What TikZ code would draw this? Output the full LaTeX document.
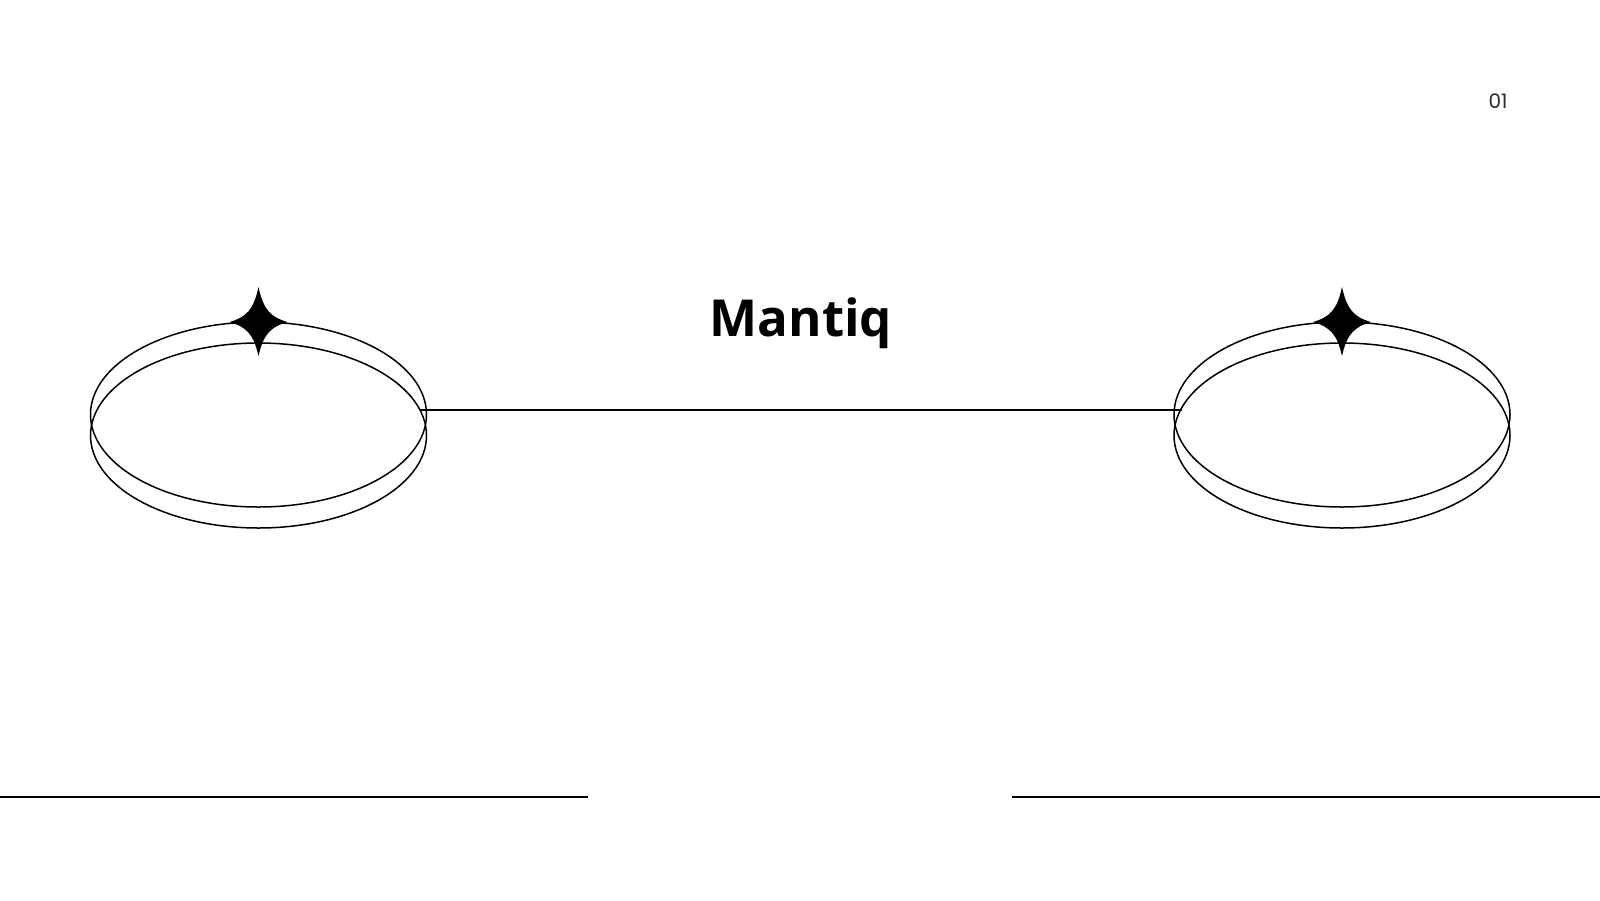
\documentclass[tikz,border=0pt]{standalone}
\usepackage{fontspec}
\setmainfont{Open Sans}
\newfontfamily\pagefont{Poppins}
\usetikzlibrary{shapes.geometric}

\begin{document}
\begin{tikzpicture}[x=0.5pt, y=-0.5pt, line width=0.75pt]
  \definecolor{inkgray}{HTML}{2A2A2A}
  \tikzstyle{rim}=[draw, ellipse, inner sep=0pt, outer sep=0pt,
                   minimum width=168pt, minimum height=92.5pt]
  \tikzstyle{rule}=[draw, line width=0.8pt]
  \tikzset{spark/.pic={
    \fill (0,-35) .. controls (5,-12) and (12,-5) .. (29,0)
          .. controls (12,5) and (5,12) .. (0,34)
          .. controls (-5,12) and (-12,5) .. (-29,0)
          .. controls (-12,-5) and (-5,-12) .. cycle;}}

  \useasboundingbox (0,0) rectangle (1600,900);

  % left ring
  \node[rim] (leftTop) at (258.5,414.5) {};
  \node[rim] (leftBot) at (258.5,435.5) {};
  \pic at (leftTop.north) {spark};

  % right ring
  \node[rim] (rightTop) at (1342,414.5) {};
  \node[rim] (rightBot) at (1342,435.5) {};
  \pic at (rightTop.north) {spark};

  \draw (leftBot.9.7) -- (rightBot.170.3 |- leftBot.9.7);

  \node[anchor=base, inner sep=0pt] (title) at (801,336)
    {\fontsize{25.5}{30}\selectfont\bfseries Mantiq};
  \node[anchor=base, inner sep=0pt, text=inkgray] (pageno) at (1498,108)
    {\pagefont\fontsize{10}{12}\selectfont 01};

  % bottom rules
  \coordinate (ruleA) at (0,797);
  \coordinate (ruleB) at (588,797);
  \coordinate (ruleC) at (1012,797);
  \coordinate (ruleD) at (1600,797);
  \draw[rule] (ruleA) -- (ruleB);
  \draw[rule] (ruleC) -- (ruleD);
\end{tikzpicture}
\end{document}
